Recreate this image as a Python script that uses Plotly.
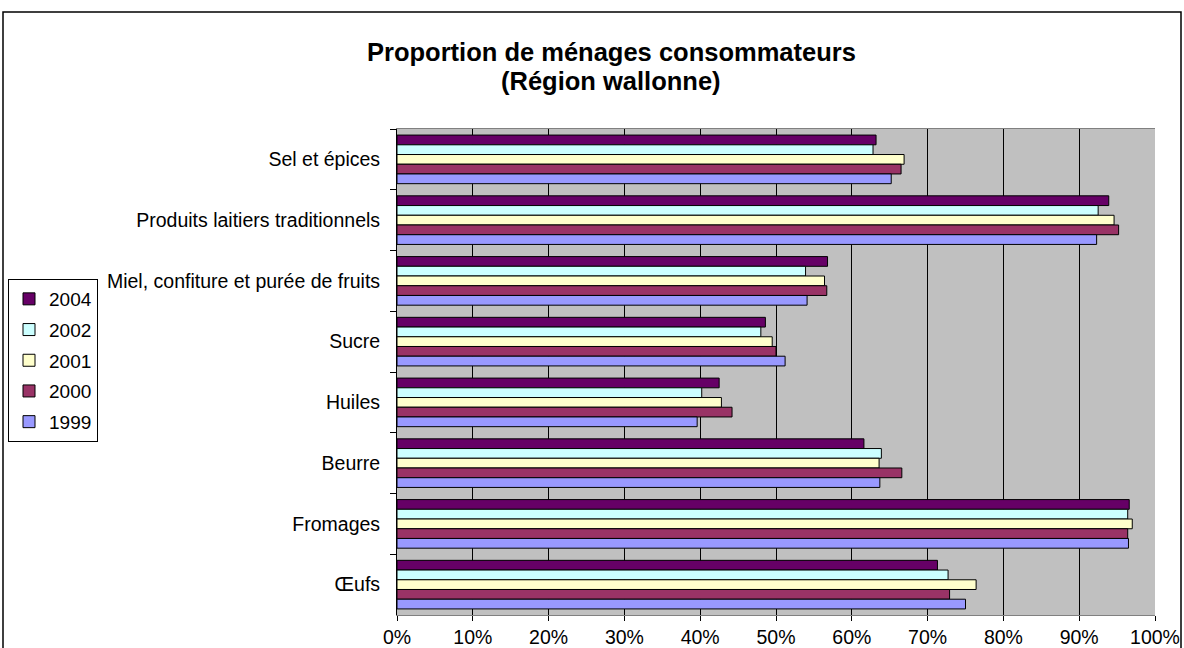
import plotly.graph_objects as go

categories = ["Sel et épices", "Produits laitiers traditionnels",
              "Miel, confiture et purée de fruits", "Sucre", "Huiles",
              "Beurre", "Fromages", "Œufs"]

years = ["2004", "2002", "2001", "2000", "1999"]

v2004 = [0.632, 0.939, 0.568, 0.486, 0.425, 0.616, 0.966, 0.713]
v2002 = [0.628, 0.925, 0.539, 0.480, 0.402, 0.639, 0.964, 0.727]
v2001 = [0.669, 0.946, 0.564, 0.495, 0.428, 0.636, 0.970, 0.764]
v2000 = [0.665, 0.952, 0.567, 0.500, 0.442, 0.666, 0.964, 0.729]
v1999 = [0.652, 0.923, 0.541, 0.512, 0.396, 0.637, 0.965, 0.750]

series = [v2004, v2002, v2001, v2000, v1999]
colors = ["#660066", "#CCFFFF", "#FFFFCC", "#993366", "#9999FF"]

x_ticks = [i / 10 for i in range(11)]
x_labels = [f"{i * 10}%" for i in range(11)]

title_lines = ["Proportion de ménages consommateurs", "(Région wallonne)"]

fig = go.Figure()
for yr, vals, col in zip(years, series, colors):
    fig.add_trace(go.Bar(
        y=categories, x=vals, name=yr, orientation="h",
        marker=dict(color=col, line=dict(color="black", width=1)),
        legendgroup=yr,
    ))

font_family = "Liberation Sans, Arial, sans-serif"

W, H = 1184, 648
L, R, T, B = 397, 29, 129, 33
plot_h = H - T - B
plot_w = W - L - R


def px_x(p):
    return (p - L) / plot_w


def px_y(p):
    return (H - B - p) / plot_h


annotations = []
for line, ypix in zip(title_lines, [52, 81]):
    annotations.append(dict(
        text=f"<b>{line}</b>", xref="paper", yref="paper",
        x=px_x(611), y=px_y(ypix), xanchor="center", yanchor="middle",
        showarrow=False, font=dict(family=font_family, size=25.5, color="black"),
    ))

fig.update_layout(
    width=W, height=H,
    margin=dict(l=L, r=R, t=T, b=B, autoexpand=False),
    paper_bgcolor="white",
    plot_bgcolor="#C0C0C0",
    barmode="group",
    bargap=0.2,
    bargroupgap=0,
    font=dict(family=font_family, size=19.5, color="black"),
    annotations=annotations,
    legend=dict(
        xref="container", yref="container",
        x=8 / W, xanchor="left", y=1 - 279 / H, yanchor="top",
        traceorder="grouped", tracegroupgap=3,
        bordercolor="black", borderwidth=1, bgcolor="white",
        font=dict(family=font_family, size=19, color="black"),
        itemwidth=30,
    ),
    xaxis=dict(
        range=[0, 1], tickvals=x_ticks, ticktext=x_labels,
        showgrid=True, gridcolor="black", gridwidth=1,
        ticks="outside", ticklen=5, tickcolor="black",
        showline=True, linecolor="#808080", linewidth=1, mirror=True,
        zeroline=False, fixedrange=True, automargin=False,
    ),
    yaxis=dict(
        autorange="reversed", automargin=False,
        tickson="boundaries", ticks="outside", ticklen=6, tickcolor="black",
        ticklabelstandoff=12,
        showline=True, linecolor="black", linewidth=1,
        showgrid=False, zeroline=False, fixedrange=True,
    ),
    shapes=[dict(
        type="rect", xref="paper", yref="paper",
        x0=px_x(3), x1=px_x(1181),
        y0=px_y(700), y1=px_y(12),
        line=dict(color="black", width=1.5), fillcolor="rgba(0,0,0,0)",
        layer="below",
    )],
)

fig.write_html("out.html", config={"displayModeBar": False},
               post_script="document.body.style.margin='0';")
